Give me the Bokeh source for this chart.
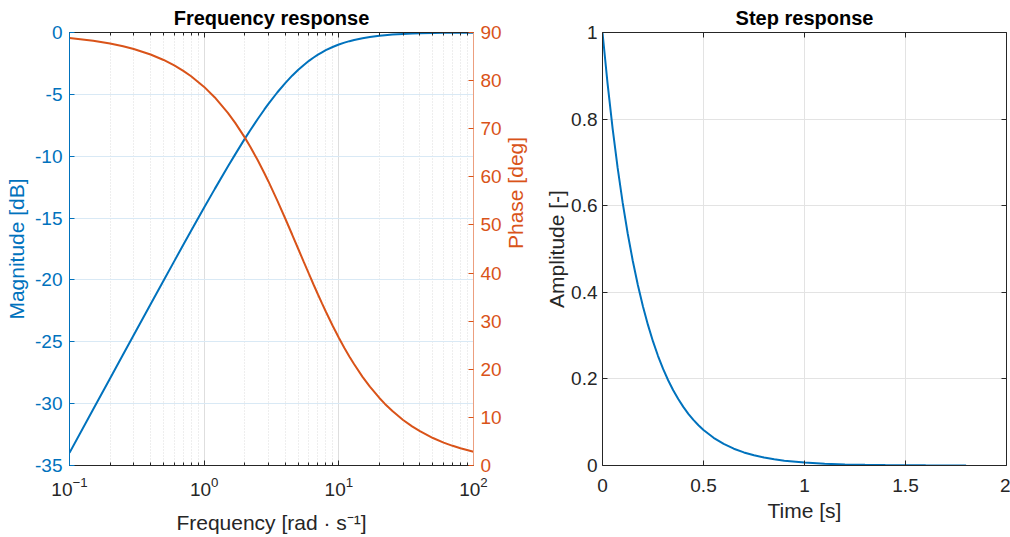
import math
from bokeh.plotting import figure
from bokeh.layouts import row
from bokeh.models import (Range1d, LinearAxis, LogAxis, FixedTicker, LogTicker,
                          CustomJSTickFormatter)
from bokeh.embed import file_html
from bokeh.resources import INLINE

# Frequency response samples (rad/s, dB, deg)
freq = [0.1, 0.15, 0.2, 0.25, 0.3, 0.4, 0.5, 0.6, 0.7, 0.8, 1, 1.2, 1.5, 1.7,
        2, 2.2, 2.5, 2.8, 3, 3.5, 4, 4.5, 5, 5.5, 6, 6.5, 7, 7.5, 8, 9, 10,
        11, 12, 13, 15, 17, 20, 22, 25, 30, 35, 40, 50, 60, 70, 80, 100]
magnitude_db = [-33.98, -30.46, -27.97, -26.03, -24.45, -21.97, -20.04, -18.48,
                -17.16, -16.03, -14.15, -12.64, -10.83, -9.85, -8.60, -7.90,
                -6.99, -6.22, -5.77, -4.83, -4.09, -3.49, -3.01, -2.62, -2.29,
                -2.02, -1.79, -1.60, -1.43, -1.17, -0.97, -0.82, -0.70, -0.60,
                -0.46, -0.36, -0.26, -0.22, -0.17, -0.12, -0.088, -0.067,
                -0.043, -0.030, -0.022, -0.017, -0.011]
phase_deg = [88.85, 88.28, 87.71, 87.14, 86.57, 85.43, 84.29, 83.16, 82.03,
             80.91, 78.69, 76.50, 73.30, 71.22, 68.20, 66.25, 63.43, 60.75,
             59.04, 55.01, 51.34, 48.01, 45.00, 42.27, 39.81, 37.57, 35.54,
             33.69, 32.01, 29.05, 26.57, 24.44, 22.62, 21.04, 18.43, 16.39,
             14.04, 12.80, 11.31, 9.46, 8.13, 7.13, 5.71, 4.76, 4.09, 3.58, 2.86]

# Step response samples (s, -)
time_s = [0, 0.025, 0.05, 0.075, 0.1, 0.125, 0.15, 0.175, 0.2, 0.225, 0.25,
          0.275, 0.3, 0.325, 0.35, 0.375, 0.4, 0.425, 0.45, 0.475, 0.5, 0.55,
          0.6, 0.65, 0.7, 0.75, 0.8, 0.85, 0.9, 1.0, 1.1, 1.2, 1.3, 1.4, 1.5,
          1.6, 1.7, 1.8]
amplitude = [1.0, 0.8825, 0.7788, 0.6873, 0.6065, 0.5353, 0.4724, 0.4169,
             0.3679, 0.3247, 0.2865, 0.2528, 0.2231, 0.1969, 0.1738, 0.1534,
             0.1353, 0.1194, 0.1054, 0.0930, 0.0821, 0.0639, 0.0498, 0.0388,
             0.0302, 0.0235, 0.0183, 0.0143, 0.0111, 0.0067, 0.0041, 0.0025,
             0.0015, 0.0009, 0.00055, 0.0003, 0.0002, 0.0001]

mag_ticks = [-35, -30, -25, -20, -15, -10, -5, 0]
phase_ticks = [0, 10, 20, 30, 40, 50, 60, 70, 80, 90]
time_ticks = [0, 0.5, 1, 1.5, 2]
amp_ticks = [0, 0.2, 0.4, 0.6, 0.8, 1]

BLUE = "#0072BD"
ORANGE = "#D95319"
DARK = "#262626"
FONT = "Liberation Sans"
TICK_SIZE = "19px"
LABEL_SIZE = "21px"

W1 = 541          # width of the left figure
FRAME_W = 404     # plot-area width of both panels
TOP, BOTTOM = 32, 72

plain_numbers = CustomJSTickFormatter(code="return tick.toString()")


def style_axis(ax, color, labels=True):
    ax.axis_line_color = color
    ax.axis_line_width = 1
    ax.major_tick_line_color = color
    ax.major_tick_in = 5
    ax.major_tick_out = 0
    ax.minor_tick_line_color = None
    ax.major_label_text_color = color
    ax.major_label_text_font = FONT
    ax.major_label_standoff = 7
    ax.axis_label_text_color = color
    ax.axis_label_text_font = FONT
    ax.axis_label_text_font_size = LABEL_SIZE
    ax.axis_label_text_font_style = "normal"
    ax.axis_label_standoff = 4
    if labels:
        ax.major_label_text_font_size = TICK_SIZE
    else:
        ax.major_label_text_font_size = "1px"
        ax.major_label_text_alpha = 0
        ax.major_label_standoff = 0


def style_title(p, text):
    p.title.text = text
    p.title.align = "center"
    p.title.text_font = FONT
    p.title.text_font_size = "20px"
    p.title.text_font_style = "bold"
    p.title.text_color = "#000000"
    p.title.standoff = 8


# ---- Frequency response (Bode plot with twin y axes) ----
p1 = figure(width=W1, height=537, x_axis_type="log",
            x_range=Range1d(0.1, 100), y_range=Range1d(-35, 0),
            output_backend="svg", toolbar_location=None,
            min_border_left=69, min_border_right=W1 - 69 - FRAME_W,
            min_border_top=TOP, min_border_bottom=BOTTOM,
            x_axis_location=None, y_axis_location=None)
style_title(p1, "Frequency response")
p1.outline_line_color = None
p1.extra_y_ranges = {"phase": Range1d(0, 90)}

log_ticker = LogTicker(num_minor_ticks=10)
xb = LogAxis(ticker=log_ticker, axis_label="Frequency [rad · s⁻¹]")
style_axis(xb, DARK)
xb.major_label_standoff = 11
xb.axis_label_standoff = 12
xb.minor_tick_line_color = DARK
xb.minor_tick_in = 3
xb.minor_tick_out = 0
p1.add_layout(xb, "below")

xt = LogAxis(ticker=log_ticker)
style_axis(xt, DARK, labels=False)
xt.minor_tick_line_color = DARK
xt.minor_tick_in = 3
xt.minor_tick_out = 0
p1.add_layout(xt, "above")

yl = LinearAxis(ticker=FixedTicker(ticks=mag_ticks), formatter=plain_numbers,
                axis_label="Magnitude [dB]")
style_axis(yl, BLUE)
p1.add_layout(yl, "left")

yr = LinearAxis(y_range_name="phase", ticker=FixedTicker(ticks=phase_ticks),
                axis_label="Phase [deg]")
style_axis(yr, ORANGE)
yr.axis_line_color = "#EC9F7F"
yr.axis_label_orientation = math.pi / 2
yr.axis_label_standoff = 11
p1.add_layout(yr, "right")

p1.xgrid.ticker = log_ticker
p1.xgrid.grid_line_color = "#dedede"
p1.xgrid.minor_grid_line_color = "#dcdcdc"
p1.xgrid.minor_grid_line_dash = "1 2"
p1.ygrid.ticker = FixedTicker(ticks=mag_ticks)
p1.ygrid.grid_line_color = "#d9e9f5"

p1.line(freq, magnitude_db, line_color=BLUE, line_width=2)
p1.line(freq, phase_deg, line_color=ORANGE, line_width=2, y_range_name="phase")

# ---- Step response ----
W2 = 1010 - W1
LEFT2 = 602 - W1
p2 = figure(width=W2, height=537,
            x_range=Range1d(0, 2), y_range=Range1d(0, 1),
            output_backend="svg", toolbar_location=None,
            min_border_left=LEFT2, min_border_right=W2 - LEFT2 - FRAME_W,
            min_border_top=TOP, min_border_bottom=BOTTOM,
            x_axis_location=None, y_axis_location=None)
style_title(p2, "Step response")
p2.outline_line_color = None

tb = LinearAxis(ticker=FixedTicker(ticks=time_ticks), formatter=plain_numbers,
                axis_label="Time [s]")
style_axis(tb, DARK)
tb.major_label_standoff = 13
p2.add_layout(tb, "below")
tt = LinearAxis(ticker=FixedTicker(ticks=time_ticks))
style_axis(tt, DARK, labels=False)
p2.add_layout(tt, "above")
al = LinearAxis(ticker=FixedTicker(ticks=amp_ticks), formatter=plain_numbers,
                axis_label="Amplitude [-]")
style_axis(al, DARK)
al.major_label_standoff = 5
al.axis_label_standoff = 0
p2.add_layout(al, "left")
ar = LinearAxis(ticker=FixedTicker(ticks=amp_ticks))
style_axis(ar, DARK, labels=False)
p2.add_layout(ar, "right")

p2.xgrid.ticker = FixedTicker(ticks=time_ticks)
p2.ygrid.ticker = FixedTicker(ticks=amp_ticks)
p2.xgrid.grid_line_color = "#e3e3e3"
p2.ygrid.grid_line_color = "#e3e3e3"

p2.line(time_s, amplitude, line_color=BLUE, line_width=2)

layout = row(p1, p2)
open("out.html", "w").write(file_html(layout, INLINE))
